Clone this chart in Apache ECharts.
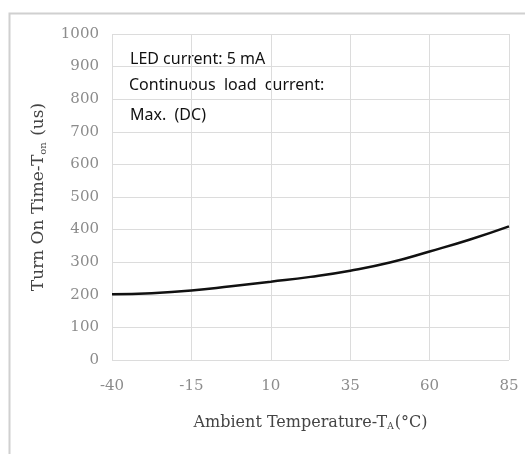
<!DOCTYPE html>
<html>
<head>
<meta charset="utf-8">
<script src="https://cdn.jsdelivr.net/npm/echarts@6/dist/echarts.min.js"></script>
<style>
html,body{margin:0;padding:0;background:#fff;}
#c{width:525px;height:454px;}
</style>
</head>
<body>
<div id="c"></div>
<script>
const temperatures = [-40, -27.5, -15, -2.5, 10, 22.5, 35, 47.5, 60, 72.5, 85];
const turnOnTime = [202, 205, 213, 226, 240, 255, 274, 299, 333, 369, 410];
const xTicks = [-40, -15, 10, 35, 60, 85];
const yTicks = [0, 100, 200, 300, 400, 500, 600, 700, 800, 900, 1000];
const notes = ['LED current: 5 mA', 'Continuous  load  current:', 'Max.  (DC)'];

const chart = echarts.init(document.getElementById('c'));
const serif = 'DejaVu Serif';
chart.setOption({
  animation: false,
  backgroundColor: '#fff',
  grid: {left: 112, right: 16, top: 34, bottom: 94},
  xAxis: {
    type: 'value',
    min: xTicks[0], max: xTicks[xTicks.length - 1], interval: 25,
    axisLine: {show: false},
    axisTick: {show: false},
    splitLine: {show: true, lineStyle: {color: '#dcdcdc', width: 1}},
    axisLabel: {color: '#8c8c8c', fontFamily: serif, fontSize: 15, margin: 19, formatter: v => String(v)},
    name: '{t|Ambient Temperature-T}{s|A}{t|(°C)}',
    nameLocation: 'middle',
    nameGap: 54,
    nameTextStyle: {
      rich: {
        t: {fontFamily: serif, fontSize: 16, color: '#444'},
        s: {fontFamily: serif, fontSize: 9, color: '#444', verticalAlign: 'bottom', padding: [8, 1, 0, 0]}
      }
    }
  },
  yAxis: {
    type: 'value',
    min: yTicks[0], max: yTicks[yTicks.length - 1], interval: 100,
    axisLine: {show: false},
    axisTick: {show: false},
    splitLine: {show: true, lineStyle: {color: '#dcdcdc', width: 1}},
    axisLabel: {color: '#8c8c8c', fontFamily: serif, fontSize: 15, margin: 13, formatter: v => String(v)},
    name: '{t|Turn On Time-T}{s|on}{t| (us)}',
    nameLocation: 'middle',
    nameGap: 64,
    nameTextStyle: {
      rich: {
        t: {fontFamily: serif, fontSize: 17, color: '#444'},
        s: {fontFamily: serif, fontSize: 10, color: '#444', verticalAlign: 'bottom', padding: [8, 1, 0, 0]}
      }
    }
  },
  graphic: [
    {type: 'rect', left: 7, top: 11, shape: {width: 530, height: 460}, style: {fill: 'none', stroke: '#d0d0d0', lineWidth: 2}, silent: true, z: -1},
    {type: 'text', left: 130, top: 51, style: {text: notes[0], font: '16px "Noto Sans"', fill: '#111'}},
    {type: 'text', left: 129, top: 77, style: {text: notes[1], font: '16px "Noto Sans"', fill: '#111'}},
    {type: 'text', left: 130, top: 107, style: {text: notes[2], font: '16px "Noto Sans"', fill: '#111'}}
  ],
  series: [{
    type: 'line',
    data: temperatures.map((t, i) => [t, turnOnTime[i]]),
    smooth: true,
    showSymbol: false,
    lineStyle: {color: '#111', width: 2.5}
  }]
});
</script>
</body>
</html>
